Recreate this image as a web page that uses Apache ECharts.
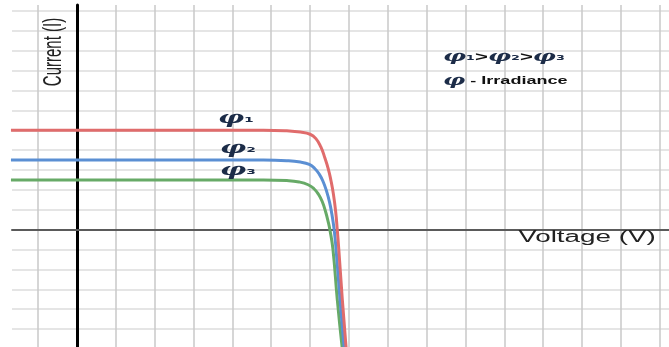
<!DOCTYPE html>
<html>
<head>
<meta charset="utf-8">
<script src="https://cdn.jsdelivr.net/npm/echarts@6/dist/echarts.min.js"></script>
<style>
  html, body { margin: 0; padding: 0; background: #fff; }
  #chart { width: 669px; height: 347px; }
</style>
</head>
<body>
<div id="chart"></div>
<script>
// Solar cell I-V characteristics for three irradiance levels (voltage, current) pairs
const curvePhi1 = [
  [-1.7, 5.0], [4.8, 5.0], [5.4, 4.97], [5.75, 4.91], [6.0, 4.8], [6.15, 4.58],
  [6.28, 4.15], [6.38, 3.62], [6.47, 3.05], [6.54, 2.45], [6.6, 1.8], [6.66, 0.9],
  [6.70, 0], [6.74, -1.0], [6.83, -3.5], [6.93, -6.0]
];
const curvePhi2 = [
  [-1.7, 3.5], [4.8, 3.5], [5.4, 3.47], [5.75, 3.4], [5.98, 3.28], [6.12, 3.08],
  [6.24, 2.78], [6.34, 2.4], [6.43, 1.9], [6.5, 1.4], [6.56, 0.8], [6.62, 0],
  [6.67, -1.0], [6.77, -3.5], [6.88, -6.0]
];
const curvePhi3 = [
  [-1.7, 2.5], [4.8, 2.5], [5.4, 2.47], [5.72, 2.4], [5.95, 2.26], [6.1, 2.06],
  [6.22, 1.77], [6.32, 1.38], [6.4, 0.9], [6.46, 0.45], [6.51, 0], [6.59, -1.0],
  [6.7, -3.5], [6.83, -6.0]
];

// Grid line positions on each axis
const voltageGrid = [-1, 0, 1, 2, 3, 4, 5, 6, 7, 8, 9, 10, 11, 12, 13, 14, 15];
const currentGrid = [-5, -4, -3, -2, -1, 0, 1, 2, 3, 4, 5, 6, 7, 8, 9, 10, 11];

const seriesNames = ['φ1', 'φ2', 'φ3'];
const seriesColors = ['#e06c6c', '#5b8fd3', '#67aa67'];

const phiFont = 'DejaVu Serif';
const phiColor = '#1c2c48';
const richPhi = {
  p: { fontFamily: phiFont, fontWeight: 'bold', fontStyle: 'italic', fontSize: 15, fill: phiColor },
  s: { fontFamily: 'DejaVu Sans', fontWeight: 'bold', fontSize: 12, fill: phiColor },
  g: { fontFamily: 'Liberation Sans', fontWeight: 'bold', fontSize: 13, fill: '#111' },
  t: { fontFamily: 'Liberation Sans', fontWeight: 'bold', fontSize: 11, fill: '#111' }
};
const richLabel = {
  p: { fontFamily: phiFont, fontWeight: 'bold', fontStyle: 'italic', fontSize: 17, fill: phiColor },
  s: { fontFamily: 'DejaVu Sans', fontWeight: 'bold', fontSize: 13, fill: phiColor }
};

function phiText(x, y, text, rich, sx) {
  return {
    type: 'text', x: x, y: y, scaleX: sx, scaleY: 1,
    style: { text: text, rich: rich, textAlign: 'left', textVerticalAlign: 'middle', align: 'left', verticalAlign: 'middle' },
    z: 10
  };
}

const chart = echarts.init(document.getElementById('chart'), null, { renderer: 'canvas' });
chart.setOption({
  animation: false,
  backgroundColor: '#fff',
  grid: { left: 12, right: 0, top: 5, bottom: 0, containLabel: false, outerBoundsMode: 'none' },
  xAxis: {
    type: 'value', min: -1.673, max: 15.24,
    axisLine: { onZero: true, lineStyle: { color: '#5a5a5a', width: 2 } },
    axisTick: { show: false, customValues: voltageGrid },
    axisLabel: { show: false },
    splitLine: { show: true, lineStyle: { color: '#c8c8c8', width: 1.5 } }
  },
  yAxis: {
    type: 'value', min: -5.9, max: 11.3,
    axisLine: { onZero: true, lineStyle: { color: '#000', width: 3 } },
    axisTick: { show: false, customValues: currentGrid },
    axisLabel: { show: false },
    splitLine: { show: true, lineStyle: { color: '#dddddd', width: 1.5 } }
  },
  series: [curvePhi1, curvePhi2, curvePhi3].map((d, i) => ({
    name: seriesNames[i],
    type: 'line',
    data: d,
    smooth: 0.5,
    showSymbol: false,
    symbol: 'none',
    lineStyle: { color: seriesColors[i], width: 3 },
    z: 3 - i
  })),
  graphic: [
    {
      type: 'text', x: 54, y: 52, rotation: Math.PI / 2, scaleX: 1, scaleY: 1.75,
      style: {
        text: 'Current (I)', fontFamily: 'Liberation Sans', fontSize: 15, fill: '#222',
        textAlign: 'center', textVerticalAlign: 'middle', align: 'center', verticalAlign: 'middle'
      },
      z: 10
    },
    {
      type: 'text', x: 587, y: 238, scaleX: 1.74, scaleY: 1,
      style: {
        text: 'Voltage (V)', fontFamily: 'Liberation Sans', fontSize: 16, fill: '#222',
        textAlign: 'center', textVerticalAlign: 'middle', align: 'center', verticalAlign: 'middle'
      },
      z: 10
    },
    phiText(443, 57, '{p|φ}{s|₁}{g|>}{p|φ}{s|₂}{g|>}{p|φ}{s|₃}', richPhi, 1.7),
    phiText(443, 81, '{p|φ}{t| - Irradiance}', richPhi, 1.64),
    phiText(218, 119, '{p|φ}{s|₁}', richLabel, 1.7),
    phiText(220, 149, '{p|φ}{s|₂}', richLabel, 1.7),
    phiText(220, 171, '{p|φ}{s|₃}', richLabel, 1.7)
  ]
});
</script>
</body>
</html>
